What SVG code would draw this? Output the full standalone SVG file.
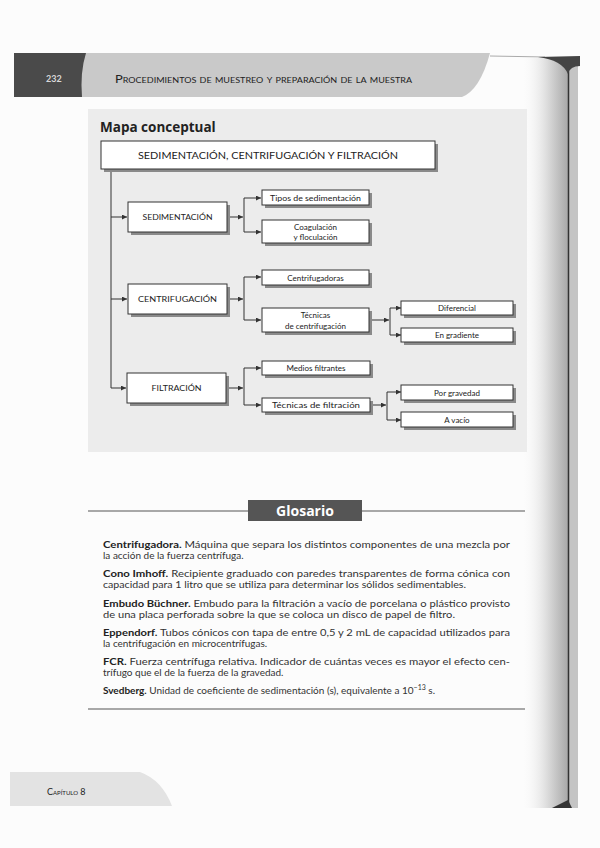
<svg xmlns="http://www.w3.org/2000/svg" width="600" height="848" viewBox="0 0 600 848">
<defs>
<linearGradient id="spine" x1="0" y1="0" x2="1" y2="0">
<stop offset="0" stop-color="#ffffff" stop-opacity="0"/>
<stop offset="0.6" stop-color="#d8d8d8"/>
<stop offset="1" stop-color="#a8a8a8"/>
</linearGradient>
<marker id="ah" viewBox="0 0 6 6" refX="6" refY="3" markerWidth="6" markerHeight="5" markerUnits="userSpaceOnUse" orient="auto">
<path d="M0,0 L6,3 L0,6 Z" fill="#333"/>
</marker>
</defs>
<style>
.box{fill:#fff;stroke:#333;stroke-width:1}
.sh{fill:#8a8a8a}
.t1{font-family:Lato,"Liberation Sans",sans-serif;font-size:7.5px;fill:#222;text-anchor:middle}
.t2{font-family:Lato,"Liberation Sans",sans-serif;font-size:8px;fill:#222;text-anchor:middle}
.gl{font-family:Lato,"Liberation Sans",sans-serif;font-size:10px;fill:#333}
.b{font-weight:bold;fill:#222}
.ln{fill:none;stroke:#333;stroke-width:1}
.ar{fill:none;stroke:#333;stroke-width:1;marker-end:url(#ah)}
</style>
<rect x="0" y="0" width="600" height="848" fill="#fcfcfc"/>
<!-- spine -->
<rect x="520" y="58" width="48" height="750" fill="url(#spine)"/>
<rect x="569" y="58" width="9" height="750" fill="#c4c4c4"/>
<line x1="568.5" y1="62" x2="568.5" y2="808" stroke="#333" stroke-width="1.5"/>
<line x1="490" y1="56" x2="545" y2="57" stroke="#aaa" stroke-width="1"/>
<path d="M538,57 L580,56 L580,66 Q570,66 568,74 Q562,60 538,57 Z" fill="#444"/>
<path d="M552,808 L568,800 L572,808 Z" fill="#333"/>
<!-- header -->
<g id="header">
<path d="M14,53 L490,53 Q480,90 462,97 L14,97 Z" fill="#c9c9c9"/>
<path d="M14,53 L86,53 Q80,72 82,97 L14,97 Z" fill="#4a4a4a"/>
<text x="46" y="82" font-family="Lato,'Liberation Sans',sans-serif" font-size="9" font-weight="bold" fill="#d8d8d8">232</text>
<text x="115" y="83" font-family="Lato,'Liberation Sans',sans-serif" font-size="11.5" font-variant="small-caps" fill="#222" textLength="297" lengthAdjust="spacingAndGlyphs">Procedimientos de muestreo y preparación de la muestra</text>
</g>
<!-- concept map background -->
<rect x="88" y="109" width="439" height="343" fill="#ececec"/>
<text x="100" y="132" font-family="'Open Sans',Lato,sans-serif" font-size="13.5" font-weight="bold" fill="#222">Mapa conceptual</text>
<g id="connectors">
<path class="ln" d="M111,170 V388"/>
<path class="ar" d="M111,217 H127"/>
<path class="ar" d="M111,299 H127"/>
<path class="ar" d="M111,388 H126"/>
<path class="ar" d="M227,217 H243"/>
<path class="ln" d="M244,198 V232"/>
<path class="ar" d="M244,198 H261"/>
<path class="ar" d="M244,232 H261"/>
<path class="ar" d="M227,299 H243"/>
<path class="ln" d="M244,277 V320"/>
<path class="ar" d="M244,277 H261"/>
<path class="ar" d="M244,320 H261"/>
<path class="ar" d="M369,320 H389"/>
<path class="ln" d="M390,308 V335"/>
<path class="ar" d="M390,308 H401"/>
<path class="ar" d="M390,335 H401"/>
<path class="ar" d="M227,388 H243"/>
<path class="ln" d="M244,368 V405"/>
<path class="ar" d="M244,368 H261"/>
<path class="ar" d="M244,405 H261"/>
<path class="ar" d="M370,405 H386"/>
<path class="ln" d="M387,392 V420"/>
<path class="ar" d="M387,392 H401"/>
<path class="ar" d="M387,420 H401"/>
</g>
<g id="n-root">
<rect class="sh" x="104" y="144" width="334" height="28"/>
<rect class="box" x="101" y="141" width="334" height="28"/>
<text x="268" y="159" font-family="Lato,'Liberation Sans',sans-serif" font-size="10" fill="#222" text-anchor="middle" textLength="260" lengthAdjust="spacingAndGlyphs">SEDIMENTACIÓN, CENTRIFUGACIÓN Y FILTRACIÓN</text>
</g>
<g id="n-sed">
<rect class="sh" x="131" y="205" width="99" height="30"/>
<rect class="box" x="128" y="202" width="99" height="30"/>
<text class="t1" x="177.5" y="220" textLength="70" lengthAdjust="spacingAndGlyphs">SEDIMENTACIÓN</text>
</g>
<g id="n-cen">
<rect class="sh" x="131" y="287" width="99" height="30"/>
<rect class="box" x="128" y="284" width="99" height="30"/>
<text class="t1" x="177.5" y="302" textLength="79" lengthAdjust="spacingAndGlyphs">CENTRIFUGACIÓN</text>
</g>
<g id="n-fil">
<rect class="sh" x="130" y="376" width="99" height="30"/>
<rect class="box" x="127" y="373" width="99" height="30"/>
<text class="t1" x="176.5" y="391" textLength="50" lengthAdjust="spacingAndGlyphs">FILTRACIÓN</text>
</g>
<g id="n-tipos">
<rect class="sh" x="265" y="193" width="107" height="15"/>
<rect class="box" x="262" y="190" width="107" height="15"/>
<text class="t2" x="315.5" y="200.5" textLength="91" lengthAdjust="spacingAndGlyphs">Tipos de sedimentación</text>
</g>
<g id="n-coag">
<rect class="sh" x="265" y="223" width="107" height="23"/>
<rect class="box" x="262" y="220" width="107" height="23"/>
<text class="t2" x="315.5" y="230">Coagulación</text>
<text class="t2" x="315.5" y="240">y floculación</text>
</g>
<g id="n-centrif">
<rect class="sh" x="265" y="273" width="107" height="15"/>
<rect class="box" x="262" y="270" width="107" height="15"/>
<text class="t2" x="315.5" y="280.5">Centrifugadoras</text>
</g>
<g id="n-tcen">
<rect class="sh" x="265" y="311" width="107" height="24"/>
<rect class="box" x="262" y="308" width="107" height="24"/>
<text class="t2" x="315.5" y="318">Técnicas</text>
<text class="t2" x="315.5" y="328.5">de centrifugación</text>
</g>
<g id="n-dif">
<rect class="sh" x="404" y="304" width="112" height="14"/>
<rect class="box" x="401" y="301" width="112" height="14"/>
<text class="t2" x="457" y="311">Diferencial</text>
</g>
<g id="n-grad">
<rect class="sh" x="404" y="331" width="112" height="14"/>
<rect class="box" x="401" y="328" width="112" height="14"/>
<text class="t2" x="457" y="338">En gradiente</text>
</g>
<g id="n-medios">
<rect class="sh" x="265" y="364" width="108" height="14"/>
<rect class="box" x="262" y="361" width="108" height="14"/>
<text class="t2" x="316" y="371">Medios filtrantes</text>
</g>
<g id="n-tfil">
<rect class="sh" x="265" y="401" width="108" height="14"/>
<rect class="box" x="262" y="398" width="108" height="14"/>
<text class="t2" x="316" y="408" textLength="88" lengthAdjust="spacingAndGlyphs">Técnicas de filtración</text>
</g>
<g id="n-grav">
<rect class="sh" x="404" y="388" width="112" height="15"/>
<rect class="box" x="401" y="385" width="112" height="15"/>
<text class="t2" x="457" y="395.5">Por gravedad</text>
</g>
<g id="n-vac">
<rect class="sh" x="404" y="415" width="112" height="15"/>
<rect class="box" x="401" y="412" width="112" height="15"/>
<text class="t2" x="457" y="422.5">A vacío</text>
</g>
<!-- glosario -->
<g id="glosario">
<line x1="88" y1="511" x2="525" y2="511" stroke="#555" stroke-width="1"/>
<rect x="248" y="500" width="114" height="21" fill="#555"/>
<text x="305" y="515.5" font-family="'Open Sans',Lato,sans-serif" font-size="14" font-weight="bold" fill="#fff" text-anchor="middle">Glosario</text>
<text class="gl" x="103" y="548" textLength="407" lengthAdjust="spacingAndGlyphs"><tspan class="b">Centrifugadora.</tspan> Máquina que separa los distintos componentes de una mezcla por</text>
<text class="gl" x="103" y="559">la acción de la fuerza centrífuga.</text>
<text class="gl" x="103" y="577" textLength="407" lengthAdjust="spacingAndGlyphs"><tspan class="b">Cono Imhoff.</tspan> Recipiente graduado con paredes transparentes de forma cónica con</text>
<text class="gl" x="103" y="588" textLength="363" lengthAdjust="spacingAndGlyphs">capacidad para 1 litro que se utiliza para determinar los sólidos sedimentables.</text>
<text class="gl" x="103" y="607" textLength="407" lengthAdjust="spacingAndGlyphs"><tspan class="b">Embudo Büchner.</tspan> Embudo para la filtración a vacío de porcelana o plástico provisto</text>
<text class="gl" x="103" y="618" textLength="352" lengthAdjust="spacingAndGlyphs">de una placa perforada sobre la que se coloca un disco de papel de filtro.</text>
<text class="gl" x="103" y="636" textLength="407" lengthAdjust="spacingAndGlyphs"><tspan class="b">Eppendorf.</tspan> Tubos cónicos con tapa de entre 0,5 y 2 mL de capacidad utilizados para</text>
<text class="gl" x="103" y="647">la centrifugación en microcentrífugas.</text>
<text class="gl" x="103" y="665" textLength="407" lengthAdjust="spacingAndGlyphs"><tspan class="b">FCR.</tspan> Fuerza centrífuga relativa. Indicador de cuántas veces es mayor el efecto cen-</text>
<text class="gl" x="103" y="676">trífugo que el de la fuerza de la gravedad.</text>
<text class="gl" x="103" y="694"><tspan class="b">Svedberg.</tspan> Unidad de coeficiente de sedimentación (s), equivalente a 10<tspan font-size="7" dy="-4">−13</tspan><tspan dy="4"> s.</tspan></text>
<line x1="88" y1="709" x2="525" y2="709" stroke="#555" stroke-width="1"/>
</g>
<!-- footer -->
<g id="footer">
<path d="M10,772 L140,772 Q162,780 172,806 L10,806 Z" fill="#e3e3e3"/>
<text x="47" y="795" font-family="Lato,'Liberation Sans',sans-serif" font-size="9" font-variant="small-caps" fill="#222">Capítulo 8</text>
</g>
</svg>
